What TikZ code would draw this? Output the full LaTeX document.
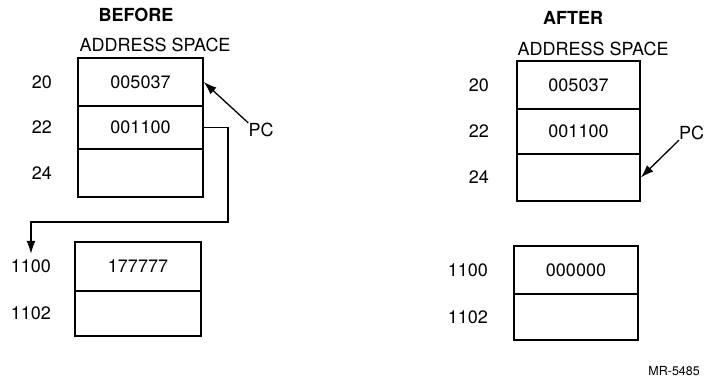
\documentclass[tikz,border=0pt]{standalone}
\usepackage{fontspec}
\setmainfont{TeX Gyre Heros}
\usetikzlibrary{arrows.meta,positioning}

\tikzset{
  cell/.style={draw,line width=1.6pt,inner sep=0pt,minimum width=125pt,font=\fontsize{18}{20}\selectfont},
  addr/.style={inner sep=2pt,font=\fontsize{18}{20}\selectfont},
  head/.style={inner sep=0pt,font=\fontsize{18}{20}\selectfont},
  link/.style={line width=1.3pt,-{Latex[length=13pt,width=9pt]}}
}

\begin{document}
\begin{tikzpicture}[x=1pt,y=-1pt]
\useasboundingbox (0,0) rectangle (704,378);

% before
\node[head,font=\fontsize{18}{20}\bfseries] (before) at (136,15) {BEFORE};
\node[head] (bspace) at (155,45) {ADDRESS SPACE};
\node[cell,minimum height=48pt] (b20) at (140.5,82) {005037};
\node[cell,minimum height=43pt] (b22) at (140.5,127.5) {001100};
\node[cell,minimum height=48pt] (b24) at (140.5,173) {};
\node[cell,minimum height=49pt,minimum width=126pt] (b1100) at (138,266.5) {177777};
\node[cell,minimum height=45pt,minimum width=126pt] (b1102) at (138,313.5) {};
\node[addr,left=23pt of b20] (l20) {20};
\node[addr,left=23pt of b22] (l22) {22};
\node[addr,left=23pt of b24] (l24) {24};
\node[addr,left=21pt of b1100] (l1100) {1100};
\node[addr,left=21pt of b1102] (l1102) {1102};
\node[head] (pcb) at (261,130) {PC};
\draw[link] (pcb.north west) -- (b20.east);
\coordinate (turn) at (228,222);
\draw[link,shorten >=4pt] (b22.east) -| (turn) -| (l1100.north);

% after
\node[head,font=\fontsize{18}{20}\bfseries] (after) at (573,18) {AFTER};
\node[head] (aspace) at (593,49) {ADDRESS SPACE};
\node[cell,minimum height=48pt,minimum width=123pt] (a20) at (578.5,85) {005037};
\node[cell,minimum height=45pt,minimum width=123pt] (a22) at (578.5,131.5) {001100};
\node[cell,minimum height=47pt,minimum width=123pt] (a24) at (578.5,177.5) {};
\node[cell,minimum height=48pt,minimum width=124pt] (a1100) at (576,270) {000000};
\node[cell,minimum height=46pt,minimum width=124pt] (a1102) at (576,317) {};
\node[addr,left=25pt of a20] (r20) {20};
\node[addr,left=25pt of a22] (r22) {22};
\node[addr,left=25pt of a24] (r24) {24};
\node[addr,left=23pt of a1100] (r1100) {1100};
\node[addr,left=23pt of a1102] (r1102) {1102};
\node[head,anchor=west] (pca) at (679,133) {PC};
\draw[link] (pca.south west) -- (a24.east);

\node[head,anchor=east,font=\fontsize{12.5}{14}\selectfont] (mr) at (700,371) {MR-5485};
\end{tikzpicture}
\end{document}
